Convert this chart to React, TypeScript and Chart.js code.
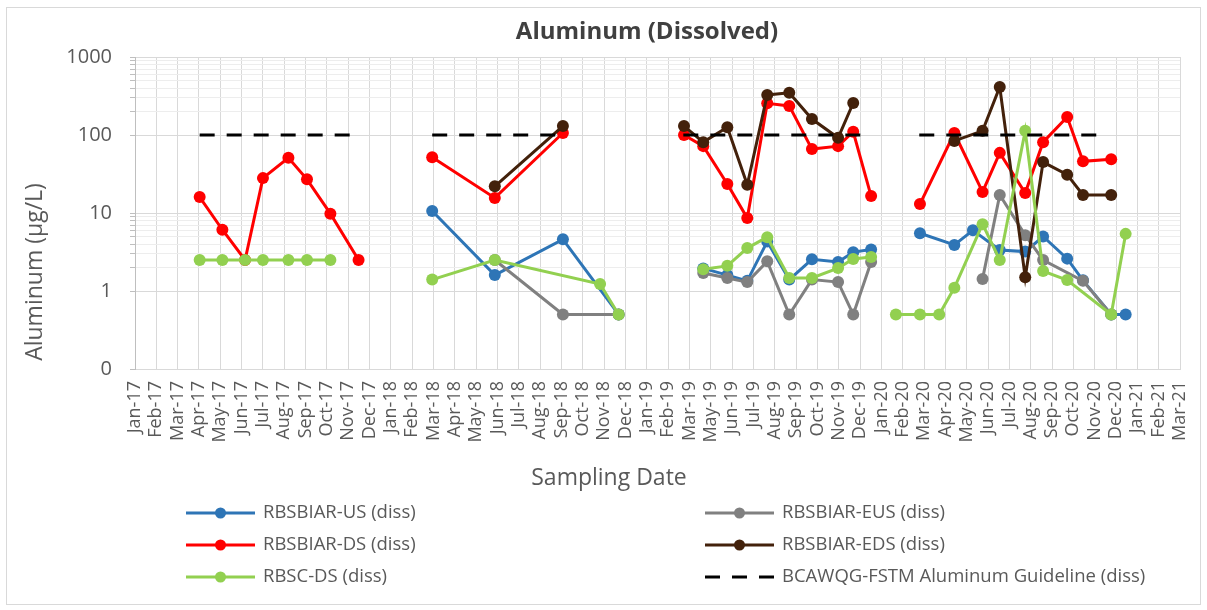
import React, { useEffect, useRef } from 'react';
import { Chart, registerables } from 'chart.js';

Chart.register(...registerables);

// ---------- text ----------
const CHART_TITLE = 'Aluminum (Dissolved)';
const X_TITLE = 'Sampling Date';
const Y_TITLE = 'Aluminum (µg/L)';

// ---------- x axis (date axis, ticks every 31 days from 14 Jan 2017) ----------
const AXIS_START = '2017-01-14';
const TICK_STEP_DAYS = 31;
const xTickLabels = [
  'Jan-17', 'Feb-17', 'Mar-17', 'Apr-17', 'May-17', 'Jun-17', 'Jul-17', 'Aug-17', 'Sep-17', 'Oct-17', 'Nov-17', 'Dec-17',
  'Jan-18', 'Feb-18', 'Mar-18', 'Apr-18', 'May-18', 'Jun-18', 'Jul-18', 'Aug-18', 'Sep-18', 'Oct-18', 'Nov-18', 'Dec-18',
  'Jan-19', 'Feb-19', 'Mar-19', 'May-19', 'Jun-19', 'Jul-19', 'Aug-19', 'Sep-19', 'Oct-19', 'Nov-19', 'Dec-19',
  'Jan-20', 'Feb-20', 'Mar-20', 'Apr-20', 'May-20', 'Jun-20', 'Jul-20', 'Aug-20', 'Sep-20', 'Oct-20', 'Nov-20', 'Dec-20',
  'Jan-21', 'Feb-21', 'Mar-21',
];

// ---------- y axis (log) ----------
const yMajorTicks = [0.1, 1, 10, 100, 1000];
const yMajorLabels = ['0', '1', '10', '100', '1000'];
const yMinorTicks = [2, 3, 4, 5, 6, 7, 8, 9, 200, 300, 400, 500, 600, 700, 800, 900];

// ---------- series ('' date / null value = break in the line) ----------
const usDates = [
  '2018-03-22', '2018-06-21', '2018-09-28', '2018-12-18', '',
  '2019-04-20', '2019-05-25', '2019-06-23', '2019-07-22', '2019-08-23', '2019-09-25', '2019-11-02', '2019-11-24', '2019-12-20', '',
  '2020-02-29', '2020-04-19', '2020-05-16', '2020-06-24', '2020-07-31', '2020-08-26', '2020-09-30', '2020-10-23', '2020-12-03', '2020-12-24',
];
const usValues = [
  10.6, 1.6, 4.6, 0.5, null,
  1.95, 1.6, 1.35, 4.3, 1.4, 2.55, 2.35, 3.15, 3.4, null,
  5.5, 3.9, 6.0, 3.35, 3.2, 5.0, 2.6, 1.37, 0.5, 0.5,
];

const eusDates = [
  '2018-06-21', '2018-09-28', '2018-12-18', '',
  '2019-04-20', '2019-05-25', '2019-06-23', '2019-07-22', '2019-08-23', '2019-09-25', '2019-11-02', '2019-11-24', '2019-12-20', '',
  '2020-05-30', '2020-06-24', '2020-07-31', '2020-08-26', '2020-10-23', '2020-12-03',
];
const eusValues = [
  2.5, 0.5, 0.5, null,
  1.7, 1.47, 1.3, 2.4, 0.5, 1.4, 1.3, 0.5, 2.35, null,
  1.43, 17, 5.2, 2.5, 1.35, 0.5,
];

const dsDates = [
  '2017-04-18', '2017-05-21', '2017-06-23', '2017-07-19', '2017-08-25', '2017-09-21', '2017-10-25', '2017-12-05', '',
  '2018-03-22', '2018-06-21', '2018-09-28', '',
  '2019-03-23', '2019-04-20', '2019-05-25', '2019-06-23', '2019-07-22', '2019-08-23', '2019-09-25', '2019-11-02', '2019-11-24', '2019-12-20', '',
  '2020-02-29', '2020-04-19', '2020-05-30', '2020-06-24', '2020-07-31', '2020-08-26', '2020-09-30', '2020-10-23', '2020-12-03',
];
const dsValues = [
  16, 6.1, 2.5, 28, 51, 27, 9.8, 2.5, null,
  52, 15.6, 106, null,
  100, 72, 23.5, 8.6, 255, 236, 66, 72, 110, 16.5, null,
  13, 106, 18.6, 59, 18, 81, 170, 46, 49,
];

const edsDates = [
  '2018-06-21', '2018-09-28', '',
  '2019-03-23', '2019-04-20', '2019-05-25', '2019-06-23', '2019-07-22', '2019-08-23', '2019-09-25', '2019-11-02', '2019-11-24', '',
  '2020-04-19', '2020-05-30', '2020-06-24', '2020-07-31', '2020-08-26', '2020-09-30', '2020-10-23', '2020-12-03',
];
const edsValues = [
  22, 130, null,
  130, 81, 126, 23, 326, 347, 160, 92, 257, null,
  84, 113, 412, 1.5, 45, 31, 17, 17,
];

const scDates = [
  '2017-04-18', '2017-05-21', '2017-06-23', '2017-07-19', '2017-08-25', '2017-09-21', '2017-10-25', '',
  '2018-03-22', '2018-06-21', '2018-11-21', '2018-12-18', '',
  '2019-04-20', '2019-05-25', '2019-06-23', '2019-07-22', '2019-08-23', '2019-09-25', '2019-11-02', '2019-11-24', '2019-12-20', '',
  '2020-01-25', '2020-02-29', '2020-03-28', '2020-04-19', '2020-05-30', '2020-06-24', '2020-07-31', '2020-08-26', '2020-09-30', '2020-12-03', '2020-12-24',
];
const scValues = [
  2.5, 2.5, 2.5, 2.5, 2.5, 2.5, 2.5, null,
  1.4, 2.5, 1.23, 0.5, null,
  1.9, 2.1, 3.55, 4.9, 1.47, 1.47, 1.97, 2.57, 2.73, null,
  0.5, 0.5, 0.5, 1.1, 7.2, 2.5, 113, 1.8, 1.38, 0.5, 5.4,
];

const guideDates = [
  '2017-04-18', '2017-11-28', '',
  '2018-03-22', '2018-09-20', '',
  '2019-03-22', '2019-12-13', '',
  '2020-02-28', '2020-11-18',
];
const guideValues = [100, 100, null, 100, 100, null, 100, 100, null, 100, 100];

const seriesNames = [
  'RBSBIAR-US (diss)',
  'RBSBIAR-EUS (diss)',
  'RBSBIAR-DS (diss)',
  'RBSBIAR-EDS (diss)',
  'RBSC-DS (diss)',
  'BCAWQG-FSTM Aluminum Guideline (diss)',
];

// ---------- styles ----------
const COLORS = ['#2E75B6', '#808080', '#FF0000', '#43210B', '#92D050', '#000000'];
const FONT = '"Open Sans", "Noto Sans", sans-serif';
const TEXT = '#595959';

const DAY_MS = 86400000;
const startMs = Date.parse(AXIS_START + 'T00:00:00Z');
const toDay = (s: string) => (Date.parse(s + 'T00:00:00Z') - startMs) / DAY_MS;

function toPoints(dates: string[], values: (number | null)[]) {
  const pts: { x: number; y: number | null }[] = [];
  let last = 0;
  dates.forEach((d, i) => {
    if (!d) {
      pts.push({ x: last + 0.5, y: null });
      return;
    }
    last = toDay(d);
    pts.push({ x: last, y: values[i] });
  });
  return pts;
}

const decorPlugin = {
  id: 'decor',
  afterDraw(chart: any) {
    const ctx: CanvasRenderingContext2D = chart.ctx;
    ctx.save();
    // outer frame
    ctx.strokeStyle = '#D9D9D9';
    ctx.lineWidth = 1;
    ctx.strokeRect(6.5, 7.5, 1194, 597);

    // title
    ctx.fillStyle = '#404040';
    ctx.font = `bold 24px ${FONT}`;
    ctx.textAlign = 'center';
    ctx.textBaseline = 'middle';
    ctx.fillText(CHART_TITLE, 647, 32);

    // x title
    ctx.fillStyle = TEXT;
    ctx.font = `23px ${FONT}`;
    ctx.fillText(X_TITLE, 609, 478);

    // y title
    ctx.save();
    ctx.translate(35, 272);
    ctx.rotate(-Math.PI / 2);
    ctx.fillText(Y_TITLE, 0, 0);
    ctx.restore();

    // legend
    const colX = [186, 705];
    const rowY = [513, 545, 577];
    ctx.font = `18.5px ${FONT}`;
    ctx.textAlign = 'left';
    seriesNames.forEach((name, i) => {
      const col = i % 2;
      const row = Math.floor(i / 2);
      const x0 = colX[col];
      const x1 = x0 + 69;
      const y = rowY[row];
      ctx.strokeStyle = COLORS[i];
      ctx.lineWidth = 3;
      ctx.lineCap = 'butt';
      if (i === 5) ctx.setLineDash([15, 12]);
      else ctx.setLineDash([]);
      ctx.beginPath();
      ctx.moveTo(x0, y);
      ctx.lineTo(x1, y);
      ctx.stroke();
      ctx.setLineDash([]);
      if (i !== 5) {
        ctx.fillStyle = COLORS[i];
        ctx.beginPath();
        ctx.arc((x0 + x1) / 2, y, 5.5, 0, Math.PI * 2);
        ctx.fill();
      }
      ctx.fillStyle = TEXT;
      ctx.fillText(name, x1 + 8, y);
    });
    ctx.restore();
  },
};

export default function App() {
  const ref = useRef<HTMLCanvasElement>(null);

  useEffect(() => {
    const seriesData = [
      toPoints(usDates, usValues),
      toPoints(eusDates, eusValues),
      toPoints(dsDates, dsValues),
      toPoints(edsDates, edsValues),
      toPoints(scDates, scValues),
      toPoints(guideDates, guideValues),
    ];
    const datasets = seriesData.map((data, i) => {
      const isGuide = i === 5;
      return {
        label: seriesNames[i],
        data,
        order: 5 - i,
        borderColor: COLORS[i],
        backgroundColor: COLORS[i],
        borderWidth: 3,
        borderDash: isGuide ? [15, 12] : [],
        borderCapStyle: 'butt' as const,
        pointRadius: isGuide ? 0 : 6,
        pointHoverRadius: isGuide ? 0 : 6,
        pointBackgroundColor: COLORS[i],
        pointBorderColor: COLORS[i],
        pointBorderWidth: 0,
        tension: 0,
        spanGaps: false,
        fill: false,
      };
    });

    const chart = new Chart(ref.current as HTMLCanvasElement, {
      type: 'line',
      data: { datasets },
      options: {
        animation: false,
        responsive: false,
        devicePixelRatio: 1,
        layout: { padding: { top: 57, right: 27, left: 0, bottom: 0 } },
        plugins: {
          legend: { display: false },
          tooltip: { enabled: false },
          title: { display: false },
        },
        scales: {
          x: {
            type: 'linear',
            min: 0,
            max: (xTickLabels.length - 1) * TICK_STEP_DAYS,
            afterBuildTicks: (scale: any) => {
              scale.ticks = xTickLabels.map((_, i) => ({ value: i * TICK_STEP_DAYS }));
            },
            afterFit: (scale: any) => {
              scale.height = 241;
              scale.paddingLeft = 0;
              scale.paddingRight = 0;
            },
            ticks: {
              autoSkip: false,
              minRotation: 90,
              maxRotation: 90,
              padding: 12,
              color: TEXT,
              font: { family: FONT, size: 18 },
              callback: (_v: any, i: number) => xTickLabels[i],
            },
            grid: { color: '#D9D9D9', lineWidth: 1, drawTicks: false },
            border: { color: '#D9D9D9', width: 1 },
          },
          y: {
            type: 'logarithmic',
            min: 0.1,
            max: 1000,
            afterBuildTicks: (scale: any) => {
              const vals = [...yMajorTicks, ...yMinorTicks].sort((a, b) => a - b);
              scale.ticks = vals.map((v) => ({ value: v }));
            },
            afterFit: (scale: any) => {
              scale.width = 135;
              scale.paddingTop = 0;
              scale.paddingBottom = 0;
            },
            ticks: {
              autoSkip: false,
              padding: 18,
              color: TEXT,
              font: { family: FONT, size: 20 },
              callback: (v: any) => {
                const k = yMajorTicks.indexOf(Number(v));
                return k >= 0 ? yMajorLabels[k] : '';
              },
            },
            grid: {
              color: (c: any) => (c.tick && yMajorTicks.includes(c.tick.value) ? '#D9D9D9' : '#EDEDED'),
              tickColor: '#BFBFBF',
              tickLength: 5,
              lineWidth: 1,
            },
            border: { color: '#BFBFBF', width: 1 },
          },
        },
      },
      plugins: [decorPlugin],
    } as any);

    return () => chart.destroy();
  }, []);

  return (
    <div style={{ position: 'absolute', left: 0, top: 0, width: 1207, height: 610, background: '#ffffff' }}>
      <canvas ref={ref} width={1207} height={610} style={{ display: 'block', width: 1207, height: 610 }} />
    </div>
  );
}
